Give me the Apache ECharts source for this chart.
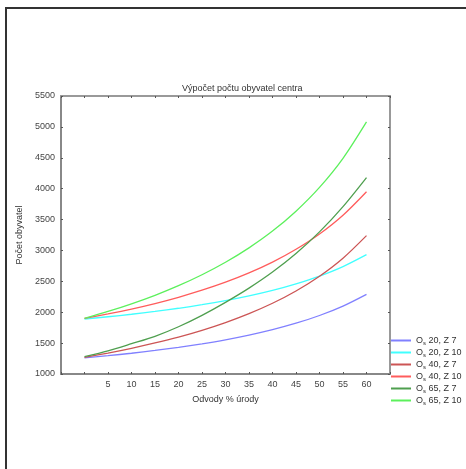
<!DOCTYPE html>
<html>
<head>
<meta charset="utf-8">
<script src="https://cdn.jsdelivr.net/npm/echarts@6/dist/echarts.min.js"></script>
<style>
  html, body { margin: 0; padding: 0; background: #fff; overflow: hidden; }
  #frame { position: absolute; left: 5px; top: 7px; width: 480px; height: 480px;
           border-left: 2px solid #333; border-top: 2px solid #333; }
  #chart { position: absolute; left: 0; top: 0; width: 466px; height: 469px; }
</style>
</head>
<body>
<div id="frame"></div>
<div id="chart"></div>
<script>
// hodnoty
var odvody = [0, 5, 10, 15, 20, 25, 30, 35, 40, 45, 50, 55, 60];
var os20z7  = [1260, 1296, 1336, 1381, 1432, 1489, 1554, 1630, 1718, 1822, 1947, 2100, 2290];
var os20z10 = [1890, 1927, 1967, 2013, 2064, 2122, 2188, 2264, 2353, 2459, 2585, 2739, 2932];
var os40z7  = [1270, 1339, 1416, 1502, 1598, 1708, 1833, 1977, 2145, 2344, 2583, 2875, 3240];
var os40z10 = [1900, 1972, 2052, 2141, 2242, 2356, 2486, 2636, 2811, 3019, 3267, 3571, 3951];
var os65z7  = [1280, 1375, 1490, 1610, 1765, 1950, 2160, 2390, 2650, 2950, 3300, 3710, 4180];
var os65z10 = [1900, 2012, 2136, 2274, 2430, 2607, 2809, 3042, 3313, 3635, 4020, 4491, 5080];
var xTickLabels = [5, 10, 15, 20, 25, 30, 35, 40, 45, 50, 55, 60];

var names = ['Os 20, Z 7', 'Os 20, Z 10', 'Os 40, Z 7', 'Os 40, Z 10', 'Os 65, Z 7', 'Os 65, Z 10'];
var values = [os20z7, os20z10, os40z7, os40z10, os65z7, os65z10];
var colors = ['#8080ff', '#40ffff', '#cc5555', '#ff5c5c', '#4f9f4f', '#5cf05c'];

function pairs(arr) {
  return odvody.map(function (x, i) { return [x, arr[i]]; });
}

var font = 'Liberation Sans, Arial, sans-serif';
var chart = echarts.init(document.getElementById('chart'));

var series = names.map(function (n, i) {
  return {
    name: n,
    type: 'line',
    data: pairs(values[i]),
    symbol: 'none',
    smooth: 0.3,
    color: colors[i],
    lineStyle: { width: 1.3, color: colors[i] },
    xAxisIndex: 0,
    yAxisIndex: 0
  };
});

chart.setOption({
  animation: false,
  title: {
    text: 'Výpočet počtu obyvatel centra',
    left: 177, top: 79,
    textStyle: { fontFamily: font, fontSize: 9, fontWeight: 'normal', color: '#333' }
  },
  legend: {
    orient: 'vertical',
    left: 386, top: 330,
    icon: 'rect',
    itemWidth: 20, itemHeight: 2, itemGap: 1,
    textStyle: {
      fontFamily: font, fontSize: 9, color: '#333', lineHeight: 11,
      rich: { s: { fontFamily: font, fontSize: 6, color: '#333', verticalAlign: 'bottom', padding: [4, 0, 0, 0] } }
    },
    formatter: function (n) { return n.replace(/^Os/, 'O{s|s}'); },
    data: names
  },
  grid: { left: 61, right: 76, top: 96, bottom: 95 },
  xAxis: [{
    type: 'value', min: -5, max: 65, interval: 5,
    name: 'Odvody % úrody', nameLocation: 'middle', nameGap: 21,
    nameTextStyle: { fontFamily: font, fontSize: 9, color: '#333' },
    axisLine: { onZero: false, lineStyle: { color: '#888', width: 2 } },
    axisTick: { inside: true, length: 2, lineStyle: { color: '#555' } },
    axisLabel: {
      fontFamily: font, fontSize: 9, color: '#444', margin: 6,
      formatter: function (v) { return xTickLabels.indexOf(v) >= 0 ? String(v) : ''; }
    },
    splitLine: { show: false }
  }, {
    type: 'value', position: 'top', min: -5, max: 65, interval: 5,
    axisLine: { onZero: false, lineStyle: { color: '#999', width: 2 } },
    axisTick: { inside: true, length: 2, lineStyle: { color: '#555' } },
    axisLabel: { show: false },
    splitLine: { show: false }
  }],
  yAxis: [{
    type: 'value', min: 1000, max: 5500, interval: 500,
    name: 'Počet obyvatel', nameLocation: 'middle', nameGap: 24,
    nameTextStyle: { fontFamily: font, fontSize: 9, color: '#333' },
    axisLine: { show: true, onZero: false, lineStyle: { color: '#888', width: 2 } },
    axisTick: { show: true, inside: true, length: 2, lineStyle: { color: '#555' } },
    axisLabel: { fontFamily: font, fontSize: 9, color: '#444', margin: 6,
                 formatter: function (v) { return String(v); } },
    splitLine: { show: false }
  }, {
    type: 'value', position: 'right', min: 1000, max: 5500, interval: 500,
    axisLine: { show: true, onZero: false, lineStyle: { color: '#999', width: 2 } },
    axisTick: { show: true, inside: true, length: 2, lineStyle: { color: '#555' } },
    axisLabel: { show: false },
    splitLine: { show: false }
  }],
  series: series
});
</script>
</body>
</html>
